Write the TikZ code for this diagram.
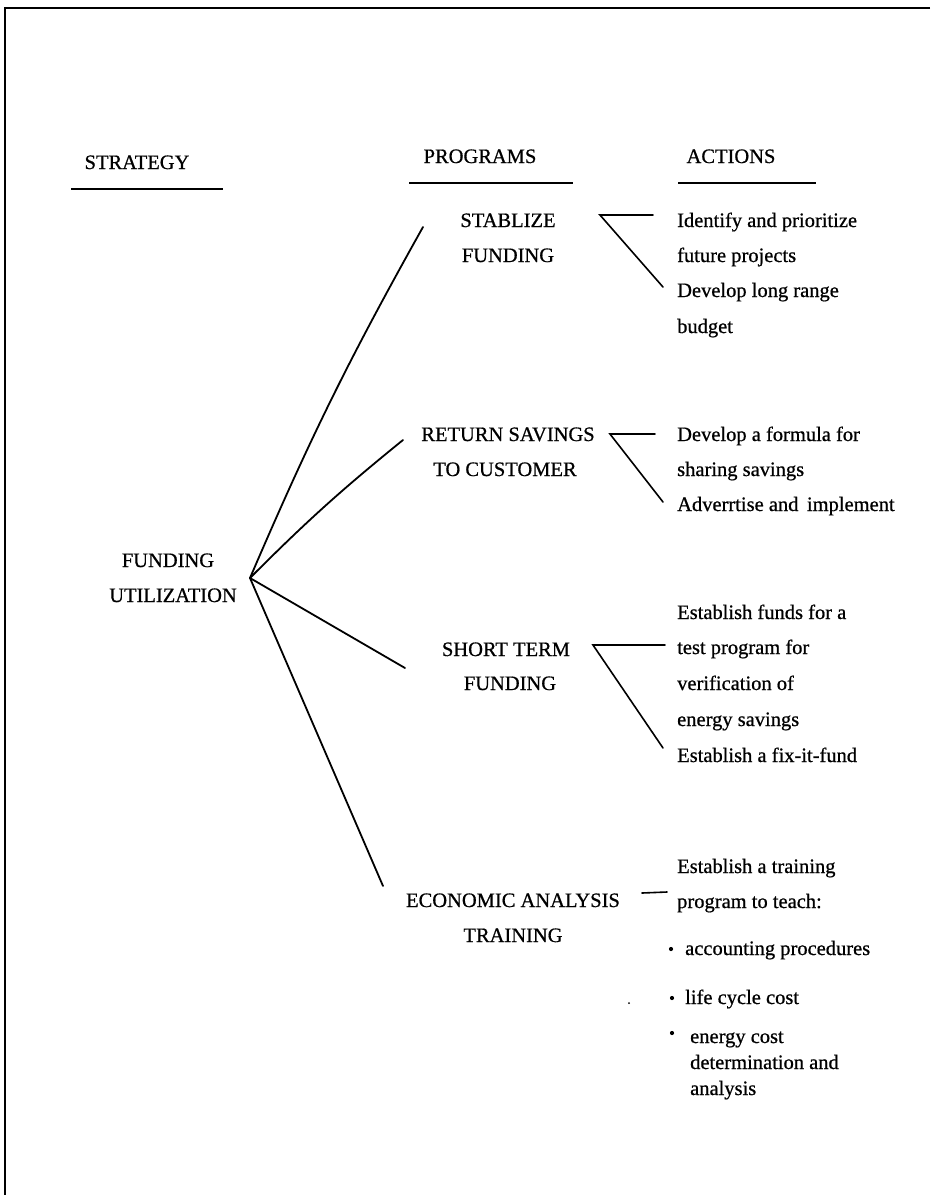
\documentclass[tikz,border=0pt]{standalone}
\usepackage{fontspec}
% upright Liberation Serif, slightly thickened for the bold series
\setmainfont{Liberation Serif}[BoldFont=Liberation Serif, BoldFeatures={FakeBold=0.7}]
\begin{document}
\begin{tikzpicture}[x=1pt,y=-1pt,
  txt/.style={inner sep=0pt, font=\fontsize{20.5}{24}\selectfont\bfseries},
  lbl/.style={txt, anchor=base},
  act/.style={txt, anchor=base west},
  rule/.style={line width=2.6pt},
  link/.style={line width=1.8pt, line cap=round},
  tick/.style={line width=1.6pt, line cap=round, line join=miter},
  dot/.style={circle, fill, inner sep=0pt, minimum size=4.2pt}]
\useasboundingbox (0,0) rectangle (930,1195);

% page frame (top and left edges)
\draw[line width=2pt] (930,8) -- (5,8) -- (5,1195);

% column headings
\node[lbl] (hs) at (137,169) {STRATEGY};
\node[lbl] (hp) at (480,163) {PROGRAMS};
\node[lbl] (ha) at (731,163) {ACTIONS};
\draw[rule] (71,189) -- (223,189);
\draw[rule] (409,183) -- (573,183);
\draw[rule] (678,183) -- (816,183);

% strategy
\node[lbl] (s1) at (168,567) {FUNDING};
\node[lbl] (s2) at (173,602) {UTILIZATION};

% programs
\node[lbl] (p1a) at (508,227) {STABLIZE};
\node[lbl] (p1b) at (508,262) {FUNDING};
\node[lbl] (p2a) at (508,441) {RETURN SAVINGS};
\node[lbl] (p2b) at (505,476) {TO CUSTOMER};
\node[lbl] (p3a) at (506,656) {SHORT TERM};
\node[lbl] (p3b) at (510,690) {FUNDING};
\node[lbl] (p4a) at (513,907) {ECONOMIC ANALYSIS};
\node[lbl] (p4b) at (513,942) {TRAINING};

% actions
\node[act] (a11) at (677,227) {Identify and prioritize};
\node[act] (a12) at (677,262) {future projects};
\node[act] (a13) at (677,297) {Develop long range};
\node[act] (a14) at (677,333) {budget};

\node[act] (a21) at (677,441) {Develop a formula for};
\node[act] (a22) at (677,476) {sharing savings};
\node[act] (a23) at (677,511) {Adverrtise and\, implement};

\node[act] (a31) at (677,619) {Establish funds for a};
\node[act] (a32) at (677,654) {test program for};
\node[act] (a33) at (677,690) {verification of};
\node[act] (a34) at (677,726) {energy savings};
\node[act] (a35) at (677,762) {Establish a fix-it-fund};

\node[act] (a41) at (677,873) {Establish a training};
\node[act] (a42) at (677,908) {program to teach:};
\node[dot] (b1) at (671,949) {};
\node[act] (a43) at (685,955) {accounting procedures};
\node[dot] (b2) at (672,998) {};
\node[act] (a44) at (685,1004) {life cycle cost};
\node[dot] (b3) at (672,1033) {};
\node[act] (a45) at (690,1043) {energy cost};
\node[act] (a46) at (690,1069) {determination and};
\node[act] (a47) at (690,1095) {analysis};

% fan of connectors from the strategy
\coordinate (hub) at (250,578);
\coordinate (t1) at (423,227);
\coordinate (t2) at (403,440);
\coordinate (t3) at (405,668);
\coordinate (t4) at (383,886);
\draw[link] (hub) to[bend left=3] (t1);
\draw[link] (hub) to[bend left=3] (t2);
\draw[link] (hub) -- (t3);
\draw[link] (hub) -- (t4);

% brackets from programs to actions
\coordinate (k1) at (600,215);
\coordinate (k1h) at (653,215);
\coordinate (k1d) at (663,287);
\draw[tick] (k1h) -- (k1) -- (k1d);

\coordinate (k2) at (610,434);
\coordinate (k2h) at (655,434);
\coordinate (k2d) at (663,502);
\draw[tick] (k2h) -- (k2) -- (k2d);

\coordinate (k3) at (593,645);
\coordinate (k3h) at (665,645);
\coordinate (k3d) at (663,748);
\draw[tick] (k3h) -- (k3) -- (k3d);

\coordinate (k4a) at (642,893);
\coordinate (k4b) at (667,892);
\draw[tick] (k4a) -- (k4b);

% small speck
\fill (629,1003) circle (1pt);
\end{tikzpicture}
\end{document}
